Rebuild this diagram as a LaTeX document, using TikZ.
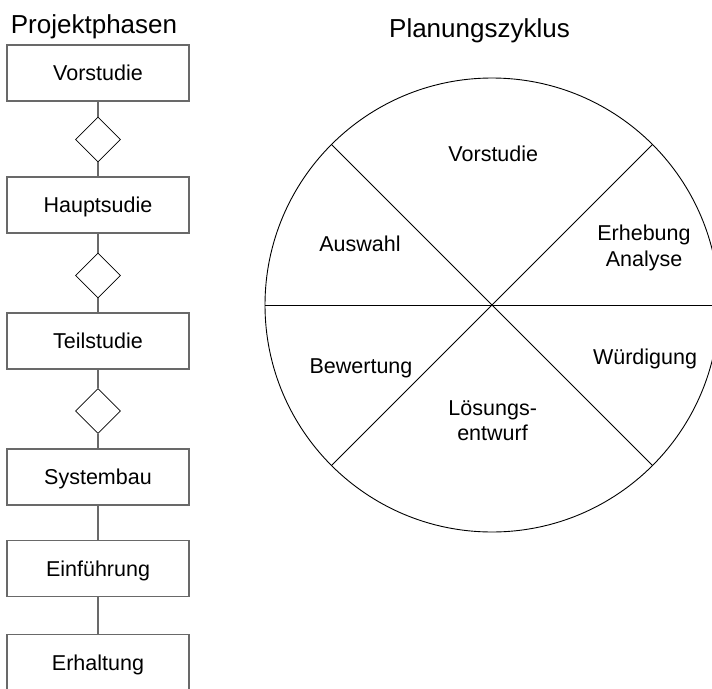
\documentclass[tikz,border=0pt]{standalone}
\usepackage{fontspec}
\setmainfont{Liberation Sans}
\usetikzlibrary{shapes.geometric,calc}
\definecolor{boxgray}{RGB}{105,105,105}
\begin{document}
\begin{tikzpicture}[x=1pt,y=-1pt,
  phasebox/.style={draw=boxgray, line width=1.5pt, rectangle, minimum width=182pt, minimum height=56pt,
    inner sep=0pt, text height=15.5pt, text depth=0pt, font=\fontsize{21.5}{25}\selectfont},
  gate/.style={draw=black, line width=0.8pt, diamond, minimum width=45pt, minimum height=45pt, inner sep=0pt},
  conn/.style={draw=boxgray, line width=1.5pt},
  title/.style={anchor=base, inner sep=0pt, font=\fontsize{26}{30}\selectfont},
  lab/.style={anchor=base, inner sep=0pt, font=\fontsize{21.5}{25}\selectfont},
  wheel/.style={draw=black, line width=0.9pt}]
\useasboundingbox (0,0) rectangle (712,688);

% Left column
\node[title] (tp) at (94,33) {Projektphasen};
\node[phasebox] (b1) at (98,73) {Vorstudie};
\node[gate] (d1) at (98,139.5) {};
\node[phasebox] (b2) at (98,205) {Hauptsudie};
\node[gate] (d2) at (98,275.5) {};
\node[phasebox] (b3) at (98,341) {Teilstudie};
\node[gate] (d3) at (98,411) {};
\node[phasebox] (b4) at (98,477) {Systembau};
\node[phasebox] (b5) at (98,568.5) {Einführung};
\node[phasebox] (b6) at (98,662.5) {Erhaltung};

\draw[conn] (b1.south) -- (d1.north);
\draw[conn] (d1.south) -- (b2.north);
\draw[conn] (b2.south) -- (d2.north);
\draw[conn] (d2.south) -- (b3.north);
\draw[conn] (b3.south) -- (d3.north);
\draw[conn] (d3.south) -- (b4.north);
\draw[conn] (b4.south) -- (b5.north);
\draw[conn] (b5.south) -- (b6.north);

% Planning cycle
\node[title] (tz) at (479.5,37.7) {Planungszyklus};
\coordinate (c) at (492,305);
\draw[wheel] (c) circle (227);
\draw[wheel] ($(c)+(-227,0)$) -- ($(c)+(227,0)$);
\draw[wheel] ($(c)+(-160.5,-160.5)$) -- ($(c)+(160.5,160.5)$);
\draw[wheel] ($(c)+(160.5,-160.5)$) -- ($(c)+(-160.5,160.5)$);

\node[lab] (l1) at (493.3,161) {Vorstudie};
\node[lab] (l2a) at (644,240.7) {Erhebung};
\node[lab] (l2b) at (644,266.7) {Analyse};
\node[lab] (l3) at (645,364) {Würdigung};
\node[lab] (l4a) at (492.7,415.3) {Lösungs-};
\node[lab] (l4b) at (492.5,440) {entwurf};
\node[lab] (l5) at (361,373.3) {Bewertung};
\node[lab] (l6) at (360,251.3) {Auswahl};
\end{tikzpicture}
\end{document}
